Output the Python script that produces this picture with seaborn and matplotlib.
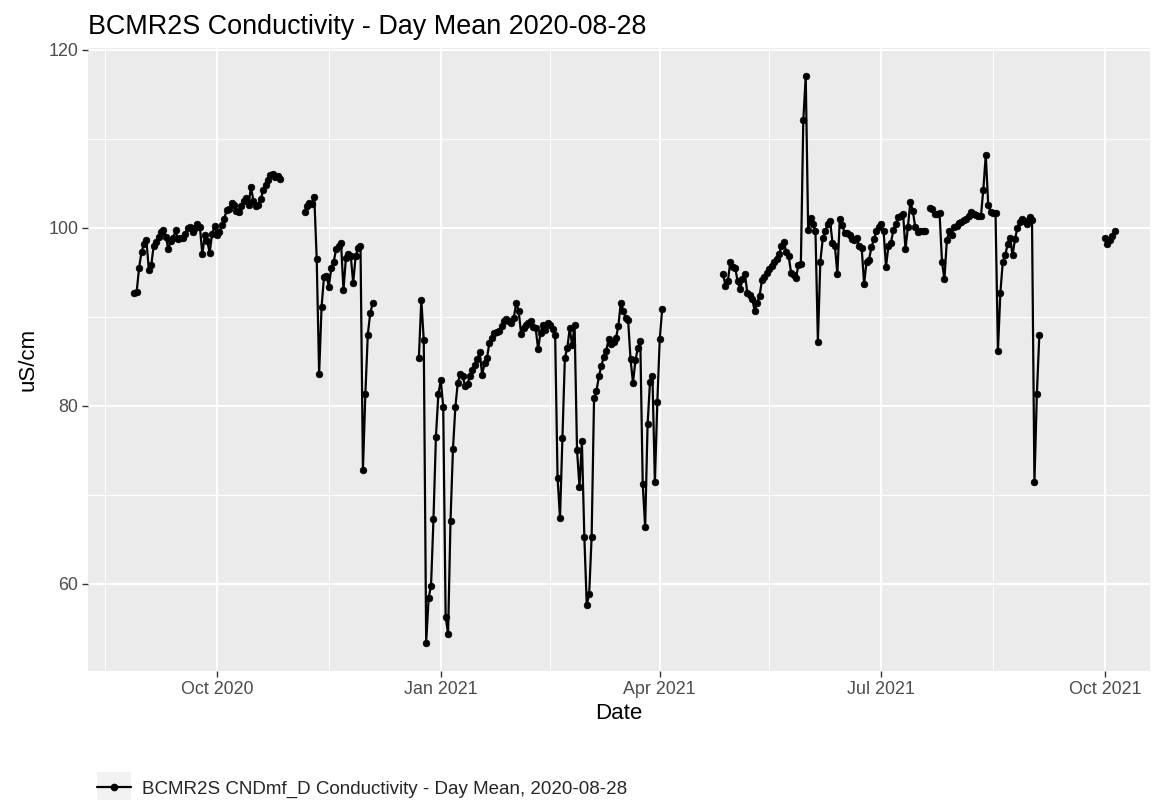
import numpy as np
import pandas as pd
import matplotlib
matplotlib.use("Agg")
import matplotlib.pyplot as plt
import matplotlib.dates as mdates
from matplotlib.patches import Rectangle
from matplotlib.lines import Line2D
from matplotlib.ticker import FixedLocator
import seaborn as sns

sns.set_theme(style="darkgrid")
plt.rcParams["font.family"] = ["Liberation Sans", "DejaVu Sans"]

# ---- data: daily means, each list is a continuous run of days ----
seg1_start = "2020-08-28"
seg1_values = [92.7, 92.8, 95.5, 97.3, 98.2, 98.6, 95.3, 95.8, 98.0, 98.4,
               99.0, 99.5, 99.8, 99.0, 97.6, 98.5, 98.8, 99.7, 98.7, 98.9,
               98.8, 99.3, 100.0, 100.1, 99.5, 100.0, 100.4, 100.1, 97.0, 99.2,
               98.5, 97.2, 99.3, 100.2,
               99.2, 99.5, 100.3, 101.0, 102.0, 102.1, 102.8, 102.6, 101.9, 101.8,
               102.5, 103.0, 103.4, 102.6, 104.6, 103.0, 102.4, 102.6, 103.2, 104.2,
               104.8, 105.4, 105.9, 106.0, 105.7, 105.8, 105.5]

seg2_start = "2020-11-06"
seg2_values = [101.8, 102.4, 102.8, 102.7, 103.5, 96.5, 83.6, 91.1, 94.5, 94.6,
               93.4, 95.5, 96.2, 97.6, 98.0, 98.3, 93.0, 96.6, 97.1, 96.8,
               93.8, 96.8, 97.7, 97.9, 72.8, 81.3, 88.0, 90.4, 91.5]

seg3_start = "2020-12-23"
seg3_values = [85.4, 91.9, 87.4, 53.4, 58.4, 59.8, 67.3, 76.5, 81.3, 82.9,
               79.9, 56.3, 54.4, 67.1, 75.1, 79.9, 82.6, 83.6, 83.3, 82.2,
               82.5, 83.3, 84.0, 84.6, 85.2, 86.0, 83.5, 84.8, 85.4, 87.1,
               87.6, 88.2, 88.3, 88.4, 89.0, 89.5, 89.7, 89.5, 89.3, 89.9,
               91.5, 90.7, 88.1, 88.7, 89.1, 89.3, 89.5, 88.9, 88.7, 86.4,
               88.2, 89.1, 88.5, 89.3, 89.1, 88.6, 88.0, 71.9, 67.4, 76.4,
               85.4, 86.5, 88.7, 86.8, 89.1, 75.0, 70.9, 76.0,
               65.3, 57.6, 58.9, 65.3, 80.9, 81.7, 83.3, 84.5, 85.5, 86.2,
               87.5, 86.9, 87.2, 87.6, 89.0, 91.6, 90.7, 89.9, 89.6, 85.2,
               82.6, 85.1, 86.5, 87.3, 71.2, 66.4, 77.9, 82.7, 83.3, 71.4,
               80.4, 87.5, 90.9]

seg4_start = "2021-04-27"
seg4_values = [94.8, 93.5, 94.0, 96.2, 95.6, 95.5, 94.0, 93.1, 94.2, 94.8,
               92.7, 92.5, 92.0, 90.7, 91.5, 92.3, 94.1, 94.5, 94.9, 95.4,
               95.7, 96.2, 96.5, 97.0, 97.9, 98.4, 97.3, 96.8, 94.9, 94.7,
               94.4, 95.8, 95.9, 112.1, 117.0,
               99.8, 101.1, 100.4, 99.6, 87.2, 96.2, 98.8, 99.6, 100.4, 100.8,
               98.3, 97.9, 94.8, 101.0, 100.3, 99.4, 99.4, 99.2, 98.7, 98.6,
               98.8, 97.9, 97.7, 93.7, 96.2, 96.4, 97.8, 98.7, 99.6, 100.1,
               100.4, 99.6, 95.6, 98.0, 98.3, 99.7, 100.4, 101.2, 101.3, 101.6,
               97.6, 100.1, 102.9, 101.9, 100.1, 99.5, 99.6, 99.6, 99.6]

seg5_start = "2021-07-21"
seg5_values = [102.2, 102.1, 101.5, 101.6, 101.7, 96.2, 94.2, 98.6, 99.6, 99.2,
               100.1, 100.2, 100.5, 100.6, 100.9, 101.0, 101.3, 101.8, 101.5, 101.4,
               101.3, 101.3, 104.3, 108.2, 102.6, 101.8, 101.7, 101.7, 86.2, 92.7,
               96.2, 96.9, 98.2, 98.9, 96.9, 98.7, 100.0, 100.6, 101.0, 100.8,
               100.4, 101.2, 100.9, 71.4, 81.3, 87.9]

seg6_start = "2021-10-01"
seg6_values = [98.8, 98.2, 98.6, 99.1, 99.6]

x_ticks = ["2020-10-01", "2021-01-01", "2021-04-01", "2021-07-01", "2021-10-01"]
x_minor = ["2020-08-16", "2020-11-16", "2021-02-15", "2021-05-16", "2021-08-16"]
y_ticks = [60, 80, 100, 120]
y_minor = [70, 90, 110]

title = "BCMR2S Conductivity - Day Mean 2020-08-28"
legend_label = "BCMR2S CNDmf_D Conductivity - Day Mean, 2020-08-28"

segments = [(seg1_start, seg1_values), (seg2_start, seg2_values),
            (seg3_start, seg3_values), (seg4_start, seg4_values),
            (seg5_start, seg5_values), (seg6_start, seg6_values)]
frames = []
for i, (s, v) in enumerate(segments):
    frames.append(pd.DataFrame({"Date": pd.date_range(s, periods=len(v), freq="D"),
                                "value": v, "segment": i}))
df = pd.concat(frames, ignore_index=True)

# ---- figure ----
W, H = 1157, 800
fig = plt.figure(figsize=(W / 100, H / 100), dpi=100)
fig.patch.set_facecolor("white")
ax = fig.add_axes([88 / W, 1 - 671 / H, (1150 - 88) / W, (671 - 48) / H])
ax.set_facecolor("#EBEBEB")

sns.lineplot(data=df, x="Date", y="value", units="segment", estimator=None,
             color="black", marker="o", markersize=4.8, markeredgecolor="black",
             markeredgewidth=0.5, linewidth=1.6, legend=False, ax=ax, zorder=3)

ax.set_xlim(pd.Timestamp("2020-08-09"), pd.Timestamp("2021-10-19 12:00"))
ax.set_ylim(50.2, 120.2)

ax.xaxis.set_major_locator(FixedLocator(mdates.date2num(pd.to_datetime(x_ticks))))
ax.xaxis.set_minor_locator(FixedLocator(mdates.date2num(pd.to_datetime(x_minor))))
ax.xaxis.set_major_formatter(mdates.DateFormatter("%b %Y"))
ax.yaxis.set_major_locator(FixedLocator(y_ticks))
ax.yaxis.set_minor_locator(FixedLocator(y_minor))

ax.grid(which="major", color="white", linewidth=1.4)
ax.grid(which="minor", color="white", linewidth=0.7)
ax.set_axisbelow(True)
for sp in ax.spines.values():
    sp.set_visible(False)

ax.tick_params(which="major", length=4, width=1, color="#333333",
               labelcolor="#4D4D4D", labelsize=12.9, pad=3,
               bottom=True, left=True)
ax.tick_params(which="minor", length=0)

ax.set_xlabel("Date", fontsize=16, color="black", labelpad=4)
ax.set_ylabel("uS/cm", fontsize=16, color="black", labelpad=7)

fig.text(88 / W, 1 - 27 / H, title, fontsize=19.4, color="black",
         ha="left", va="center")

# legend key background + legend
fig.patches.append(Rectangle((97 / W, 1 - 806 / H), 34 / W, 34 / H,
                             transform=fig.transFigure, facecolor="#F2F2F2",
                             edgecolor="none", zorder=0))
handle = Line2D([], [], color="black", marker="o", markersize=4.5,
                markeredgecolor="black", linewidth=1.6)
fig.legend(handles=[handle], labels=[legend_label], loc="center left",
           bbox_to_anchor=(97 / W, 1 - 789 / H), frameon=False,
           fontsize=13.5, handlelength=1.8, handletextpad=0.6,
           borderpad=0, borderaxespad=0)

fig.savefig("out.png", dpi=100)
